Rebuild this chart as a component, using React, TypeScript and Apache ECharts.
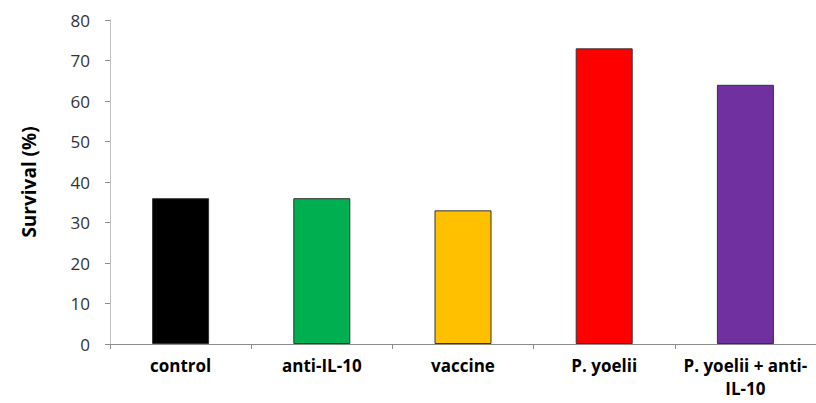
import React, { useEffect, useRef } from "react";
import * as echarts from "echarts";

const categories = ["control", "anti-IL-10", "vaccine", "P. yoelii", "P. yoelii + anti-\nIL-10"];
const survival = [36, 36, 33, 73, 64];
const colors = ["#000000", "#00b050", "#ffc000", "#ff0000", "#7030a0"];

export default function App() {
  const ref = useRef<HTMLDivElement>(null);
  useEffect(() => {
    const chart = echarts.init(ref.current!, undefined, { renderer: "svg" });
    chart.setOption({
      animation: false,
      grid: { left: 110, right: 0, top: 20, bottom: 59, outerBoundsMode: "none", containLabel: false },
      xAxis: {
        type: "category",
        data: categories,
        axisLine: { lineStyle: { color: "#8c8c8c", width: 1 } },
        axisTick: { show: true, length: 5, lineStyle: { color: "#8c8c8c" } },
        axisLabel: {
          interval: 0,
          hideOverlap: false,
          color: "#000",
          fontFamily: "Open Sans",
          fontWeight: "bold",
          fontSize: 17,
          margin: 10,
          lineHeight: 23,
        },
      },
      yAxis: {
        type: "value",
        min: 0,
        max: 80,
        interval: 10,
        name: "Survival (%)",
        nameLocation: "middle",
        nameGap: 72,
        nameTextStyle: { fontFamily: "Open Sans", fontWeight: "bold", fontSize: 19, color: "#000" },
        axisLine: { show: true, lineStyle: { color: "#bfbfbf", width: 1 } },
        axisTick: { show: true, length: 5, lineStyle: { color: "#8c8c8c" } },
        splitLine: { show: false },
        axisLabel: { color: "#333", fontFamily: "Open Sans", fontSize: 17, margin: 20 },
      },
      series: [
        {
          type: "bar",
          data: survival.map((v, i) => ({ value: v, itemStyle: { color: colors[i] } })),
          barWidth: 57,
          itemStyle: { borderColor: "#333", borderWidth: 1 },
        },
      ],
    });
    return () => chart.dispose();
  }, []);
  return <div ref={ref} style={{ width: 816, height: 403, position: "absolute", left: 0, top: 0 }} />;
}
